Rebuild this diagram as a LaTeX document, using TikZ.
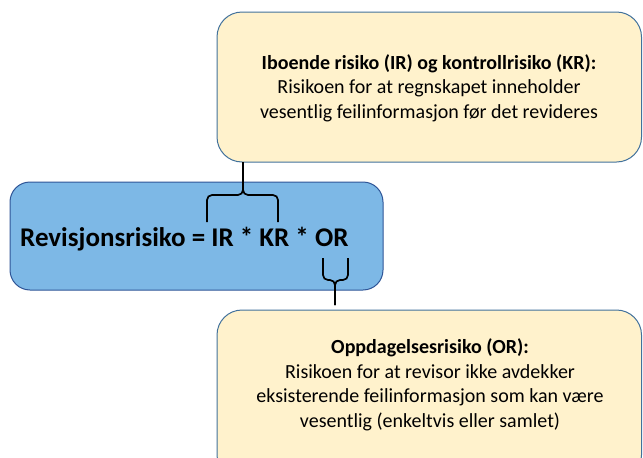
\documentclass[tikz,border=0pt]{standalone}
\usepackage{fontspec}
\setmainfont{Carlito}
\begin{document}
\definecolor{formulafill}{RGB}{125,184,230}
\definecolor{formulaedge}{RGB}{47,85,151}
\definecolor{notefill}{RGB}{255,242,204}
\definecolor{noteedge}{RGB}{65,113,156}
\begin{tikzpicture}[x=1pt,y=-1pt,
  notebox/.style={draw=noteedge,line width=1pt,fill=notefill,rounded corners=25pt},
  formulabox/.style={draw=formulaedge,line width=1pt,fill=formulafill,rounded corners=20pt},
  notetext/.style={align=center,font=\fontsize{20}{24.5}\selectfont},
  bracket/.style={draw=black,line width=1.7pt,rounded corners=5pt}]
\clip (0,0) rectangle (643,458);
\useasboundingbox (0,0) rectangle (643,458);
% boxes
\path[notebox] (217,12) rectangle (641.5,162);
\coordinate (topbox) at (243,162);
\path[formulabox] (10,182) rectangle (383,290);
\path[notebox] (217,310) rectangle (641.5,480);
\coordinate (botbox) at (335,305);
% texts
\node[notetext] (irkr) at (429,88) {\textbf{Iboende risiko (IR) og kontrollrisiko (KR):}\\Risikoen for at regnskapet inneholder\\vesentlig feilinformasjon før det revideres};
\node[anchor=base west,inner sep=0pt,font=\bfseries\fontsize{27}{32}\selectfont] (formula) at (20,246.5) {Revisjonsrisiko = IR * KR * OR};
\node[notetext] (or) at (430,385) {\textbf{Oppdagelsesrisiko (OR):}\\Risikoen for at revisor ikke avdekker\\eksisterende feilinformasjon som kan være\\vesentlig (enkeltvis eller samlet)};
% curly brace over IR * KR, its tip joining the upper note
\coordinate (b1l) at (207,222);
\coordinate (b1r) at (278,222);
\coordinate (b1m) at (243,195);
\draw[bracket] (b1l) -- (207,195) -- (b1m) -- (topbox);
\draw[bracket] (b1r) -- (278,195) -- (b1m) -- (topbox);
% curly brace under OR, its tip joining the lower note
\coordinate (b2l) at (323,258);
\coordinate (b2r) at (348,258);
\coordinate (b2m) at (335,280);
\draw[bracket] (b2l) -- (323,280) -- (b2m) -- (botbox);
\draw[bracket] (b2r) -- (348,280) -- (b2m) -- (botbox);
\end{tikzpicture}
\end{document}
